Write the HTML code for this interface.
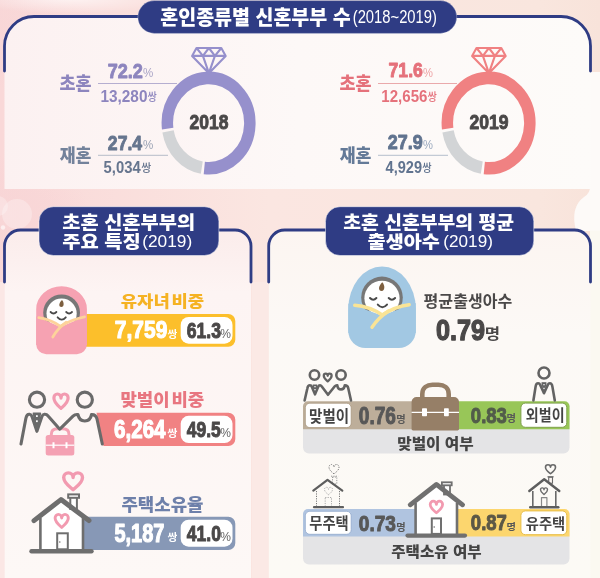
<!DOCTYPE html>
<html lang="ko"><head><meta charset="utf-8"><title>혼인종류별 신혼부부 수</title>
<style>html,body{margin:0;padding:0;background:#f9e3df}body{width:600px;height:578px;overflow:hidden}svg{display:block}</style>
</head><body>
<svg width="600" height="578" viewBox="0 0 600 578" font-family="'Liberation Sans','Noto Sans CJK KR',sans-serif">
<defs>
<linearGradient id="bgA" x1="0" y1="0" x2="1" y2="0"><stop offset="0" stop-color="#f9d8d8"/><stop offset="0.45" stop-color="#fbe6e1"/><stop offset="0.9" stop-color="#f9e6de"/><stop offset="1" stop-color="#f8e3da"/></linearGradient>
<radialGradient id="blobW" cx="0.5" cy="0.5" r="0.5"><stop offset="0" stop-color="#ffffff" stop-opacity="0.9"/><stop offset="1" stop-color="#ffffff" stop-opacity="0"/></radialGradient>
<radialGradient id="blobP" cx="0.5" cy="0.5" r="0.5"><stop offset="0" stop-color="#f8d6d7" stop-opacity="0.8"/><stop offset="1" stop-color="#f7cfd2" stop-opacity="0"/></radialGradient>
<linearGradient id="panT" x1="0" y1="0" x2="1" y2="0"><stop offset="0" stop-color="#fcf1f1"/><stop offset="0.5" stop-color="#fdf8f7"/><stop offset="1" stop-color="#fdfbf9"/></linearGradient>
<linearGradient id="panL" x1="0" y1="0" x2="0" y2="1"><stop offset="0" stop-color="#fbeceb"/><stop offset="0.18" stop-color="#fdf4f3"/><stop offset="1" stop-color="#fdf8f6"/></linearGradient>
<linearGradient id="panR" x1="0" y1="0" x2="0" y2="1"><stop offset="0" stop-color="#fcf5f1"/><stop offset="0.3" stop-color="#fcf9f6"/><stop offset="1" stop-color="#fcfaf5"/></linearGradient>
</defs>
<rect width="600" height="578" fill="url(#bgA)"/>
<ellipse cx="20" cy="40" rx="90" ry="50" fill="url(#blobP)" opacity="0.6"/><ellipse cx="70" cy="-2" rx="100" ry="16" fill="url(#blobW)" opacity="0.75"/>
<ellipse cx="0" cy="215" rx="90" ry="60" fill="url(#blobP)"/><rect x="0" y="282" width="4.5" height="296" fill="#fbe7e5"/>
<path d="M590 72 H600 V231 H576 Q570 207 584 197 Q590.5 193 590 186Z" fill="#fdfaf8"/>
<rect x="590" y="230.5" width="10" height="348" fill="#fbf9f1"/>
<rect x="252" y="282" width="16" height="296" fill="#fbe9e5"/>
<circle cx="17" cy="214" r="15" fill="#fff" opacity="0.28"/><circle cx="-2" cy="206" r="10" fill="#fff" opacity="0.25"/><circle cx="3" cy="227.5" r="2.2" fill="#fff" opacity="0.6"/>
<path d="M4.5 189 V46 A29.5 29.5 0 0 1 34 16.5 H561 A29.5 29.5 0 0 1 590.5 46 V189 Z" fill="url(#panT)"/>
<path d="M4.5 71 V46 A29.5 29.5 0 0 1 34 16.5 H561 A29.5 29.5 0 0 1 590.5 46 V71" fill="none" stroke="#2f3c84" stroke-width="2.8" stroke-linecap="round"/>
<rect x="137.8" y="0.6" width="319" height="32.8" rx="16.4" fill="#2f3c84" stroke="#fff" stroke-opacity="0.35" stroke-width="0.8"/>
<path d="M4.5 578 V246 A16 16 0 0 1 20.5 230 H235 A16 16 0 0 1 251 246 V578 Z" fill="url(#panL)"/>
<path d="M268.7 578 V246 A16 16 0 0 1 284.7 230 H574.5 A16 16 0 0 1 590.5 246 V578 Z" fill="url(#panR)"/>
<path d="M4.5 282 V246 A16 16 0 0 1 20.5 230 H235 A16 16 0 0 1 251 246 V282" fill="none" stroke="#2f3c84" stroke-width="2.8" stroke-linecap="round"/>
<path d="M268.7 282 V246 A16 16 0 0 1 284.7 230 H574.5 A16 16 0 0 1 590.5 246 V282" fill="none" stroke="#2f3c84" stroke-width="2.8" stroke-linecap="round"/>
<rect x="39" y="206.7" width="179.9" height="48.8" rx="14.5" fill="#2f3c84" stroke="#fff" stroke-opacity="0.5" stroke-width="1"/>
<rect x="325.5" y="206.7" width="208.3" height="48.8" rx="14.5" fill="#2f3c84" stroke="#fff" stroke-opacity="0.5" stroke-width="1"/>
<path d="M98 83.5H177" stroke="#b5aed0" stroke-width="1" fill="none"/><path d="M98 155.3H168" stroke="#b6bcc8" stroke-width="1" fill="none"/>
<path d="M378 83.5H457" stroke="#eaa9ab" stroke-width="1" fill="none"/><path d="M378 155.3H448" stroke="#b4bfcc" stroke-width="1" fill="none"/>
<g transform="translate(208.60 123.10) scale(1 1.095)"><path d="M-40.94 5.03 A41.25 41.25 0 1 1 -4.31 41.02" fill="none" stroke="#9690cc" stroke-width="11.5"/><path d="M-6.81 40.68 A41.25 41.25 0 0 1 -40.56 7.52" fill="none" stroke="#d2d4d6" stroke-width="11.5"/></g><path d="M196.50 48.00L221.30 48.00L225.70 55.90L208.90 73.20L192.10 55.90Z M192.10 55.90L225.70 55.90 M196.50 48.00L202.90 55.90L208.90 48.00L214.90 55.90L221.30 48.00 M202.90 55.90L208.90 73.20L214.90 55.90" fill="none" stroke="#9690cc" stroke-width="2.1" stroke-linejoin="round"/>
<g transform="translate(488.60 123.10) scale(1 1.095)"><path d="M-40.94 5.03 A41.25 41.25 0 1 1 -4.31 41.02" fill="none" stroke="#f08182" stroke-width="11.5"/><path d="M-6.81 40.68 A41.25 41.25 0 0 1 -40.56 7.52" fill="none" stroke="#d2d4d6" stroke-width="11.5"/></g><path d="M476.50 48.00L501.30 48.00L505.70 55.90L488.90 73.20L472.10 55.90Z M472.10 55.90L505.70 55.90 M476.50 48.00L482.90 55.90L488.90 48.00L494.90 55.90L501.30 48.00 M482.90 55.90L488.90 73.20L494.90 55.90" fill="none" stroke="#f08182" stroke-width="2.1" stroke-linejoin="round"/>
<path d="M80 314 H228.3 A7 7 0 0 1 235.3 321 V339.7 A7 7 0 0 1 228.3 346.7 H80Z" fill="#fcbf2b"/>
<path d="M36.2 344.2 V309.0 A25.35 22.80 0 0 1 86.9 309.0 V344.2 A10.0 10.0 0 0 1 76.9 354.2 H46.2 A10.0 10.0 0 0 1 36.2 344.2 Z" fill="#f6a2b2"/>
<circle cx="61.6" cy="312.8" r="18.4" fill="#777"/><circle cx="61.6" cy="313.6" r="15.1" fill="#ffffff"/>
<path d="M36.2 316.3 L60.5 327 L86.9 315.5 V345 H36.2Z" fill="#f6a2b2"/>
<path d="M38.8 317.6 Q51 319.5 60.5 326.3 Q71 319.5 84.6 316.8" fill="none" stroke="#fdd39b" stroke-width="2.8" stroke-linecap="round"/>
<path d="M66 322.3 Q57.5 328.5 52.8 337" fill="none" stroke="#fdd39b" stroke-width="2.8" stroke-linecap="round"/>
<path d="M62 300 C64.3 302.4 64.2 307 61.4 307 C58.6 307 58.4 303.4 62 300Z" fill="#7d5f3f"/>
<path d="M50.6 312 Q53.5 315 56.4 312 M66.2 312 Q69.1 315 72 312 M57.6 317.3 Q61.7 321.8 65.8 317.3" fill="none" stroke="#4a4a4a" stroke-width="1.8" stroke-linecap="round"/>
<rect x="180.7" y="317" width="51.8" height="26.7" rx="8" fill="#ffffff"/>
<path d="M96.5 412.7 H228.3 A7 7 0 0 1 235.3 419.7 V439 A7 7 0 0 1 228.3 446 H103.5 Z" fill="#f18283"/>
<rect x="180.7" y="415.8" width="51.8" height="27.2" rx="8" fill="#ffffff"/>
<g><rect x="45.7" y="435" width="28.6" height="20.6" rx="2.5" fill="#f4a1b3"/><path d="M51.3 436 V434.5 C51.3 430.5 54 428.8 57.5 428.8 H62.8 C66.3 428.8 69 430.5 69 434.5 V436" fill="none" stroke="#f4a1b3" stroke-width="3"/><path d="M45.7 445.2 H74.3" stroke="#fff" stroke-width="1.2"/><path d="M53.5 442.3 V448.3 M66.5 442.3 V448.3" stroke="#fff" stroke-width="2"/></g>
<g fill="none" stroke="#6a6a6a" stroke-width="3.1" stroke-linecap="round" stroke-linejoin="round"><circle cx="37" cy="399.7" r="7.6"/><circle cx="84.8" cy="399.7" r="7.6"/><path d="M21 444 L25.9 418.2 Q26.7 414.1 29.5 414.3 Q31.2 414.5 32 416.6 L36.9 431.3 L41.9 416.6 Q42.7 414.5 44.4 414.3 Q46.6 414.1 48.1 416 L59.8 429.2 L73 416.2 Q75 414.2 78 414.6 Q79 421 84.8 421 Q90.5 421 91.5 414.6 Q96 414.4 97 419 L102.3 444"/><path d="M33.4 413.4 L40.4 413.4 L36.9 429.5Z" fill="#6a6a6a" stroke-width="1.6"/></g><rect x="36.05" y="415.2" width="1.7" height="1.8" fill="#fff"/><rect x="36.05" y="420.3" width="1.7" height="1.8" fill="#fff"/>
<path d="M61.00 408.40 C58.02 405.66 53.90 402.64 53.90 398.03 A3.55 4.03 0 0 1 61.00 398.03 A3.55 4.03 0 0 1 68.10 398.03 C68.10 402.64 63.98 405.66 61.00 408.40Z" fill="none" stroke="#f29ab0" stroke-width="3.2" stroke-linejoin="round"/>
<path d="M82 516.7 H228.3 A7 7 0 0 1 235.3 523.7 V543 A7 7 0 0 1 228.3 550 H82 Z" fill="#8798b6"/>
<rect x="180.7" y="519.7" width="51.8" height="27" rx="8" fill="#ffffff"/>
<path d="M40.4 519 L61 501 L83 519 V550 H40.4Z" fill="#ffffff"/>
<g fill="#fff" stroke="#6e6e6e" stroke-width="2"><rect x="70.3" y="497" width="6.6" height="12"/><rect x="68.2" y="494.4" width="10.8" height="3.4"/></g>
<path d="M40.4 518 V550 M83 518 V550" stroke="#6e6e6e" stroke-width="2.6" fill="none"/>
<path d="M34 520.6 L61 499.6 L89 520.6" fill="none" stroke="#6e6e6e" stroke-width="5" stroke-linecap="round" stroke-linejoin="round"/>
<path d="M31.5 551.2 H91.5" stroke="#6e6e6e" stroke-width="4.4" stroke-linecap="round" fill="none"/>
<rect x="57.2" y="533.3" width="10.6" height="16" fill="#fff" stroke="#6e6e6e" stroke-width="2"/><circle cx="59.8" cy="542" r="0.8" fill="#6e6e6e"/>
<path d="M61.70 527.40 C58.93 524.93 55.10 522.20 55.10 518.04 A3.30 3.64 0 0 1 61.70 518.04 A3.30 3.64 0 0 1 68.30 518.04 C68.30 522.20 64.47 524.93 61.70 527.40Z" fill="none" stroke="#f29ab0" stroke-width="2.9" stroke-linejoin="round"/>
<path d="M73.10 489.70 C69.15 486.51 63.70 482.98 63.70 477.60 A4.70 4.70 0 0 1 73.10 477.60 A4.70 4.70 0 0 1 82.50 477.60 C82.50 482.98 77.05 486.51 73.10 489.70Z" fill="none" stroke="#f29ab0" stroke-width="3.4" stroke-linejoin="round"/>
<path d="M348.3 331.0 V309.0 A33.75 42.40 0 0 1 415.8 309.0 V331.0 A17.0 17.0 0 0 1 398.8 348.0 H365.3 A17.0 17.0 0 0 1 348.3 331.0 Z" fill="#a2c8e3"/>
<circle cx="382" cy="297.4" r="20.8" fill="#777"/><circle cx="382" cy="298.3" r="17.6" fill="#ffffff"/>
<path d="M348.3 303.5 L382 315.5 L415.8 303 V333 H348.3Z" fill="#a2c8e3"/>
<path d="M354.7 305.3 Q370 306.5 382.2 315 Q395 306.5 409.2 304.7" fill="none" stroke="#fae496" stroke-width="3.4" stroke-linecap="round"/>
<path d="M389 310.8 Q378.5 317.5 372 327.3" fill="none" stroke="#fae496" stroke-width="3.4" stroke-linecap="round"/>
<path d="M382.3 282.3 C385.2 285.3 385 291 381.6 291 C378.2 291 377.9 286.5 382.3 282.3Z" fill="#7d5f3f"/>
<path d="M370 298 Q373.2 301.4 376.4 298 M388.7 298 Q391.9 301.4 395.1 298 M377.8 304.6 Q382.4 309.8 387 304.6" fill="none" stroke="#4a4a4a" stroke-width="2" stroke-linecap="round"/>
<path d="M303 405 H569.5 V447.5 A6 6 0 0 1 563.5 453.5 H309 A6 6 0 0 1 303 447.5 Z" fill="#e4e4e6"/>
<path d="M303 429.2 V406.3 A5 5 0 0 1 308 401.3 H420 V429.2Z" fill="#bdae9a"/>
<path d="M452 401.3 H564.5 A5 5 0 0 1 569.5 406.3 V429.2 H452Z" fill="#98c658"/>
<rect x="305.3" y="403.2" width="45.9" height="24.4" rx="4.5" fill="#fff" stroke="#a8977f" stroke-width="0.8"/>
<rect x="520.9" y="403.1" width="45.9" height="24.2" rx="4.5" fill="#fff" stroke="#7fa04c" stroke-width="1"/>
<g><path d="M422.3 399 V394 C422.3 387.5 427 384.8 432.5 384.8 H438.5 C444 384.8 448.7 387.5 448.7 394 V399" fill="none" stroke="#967f67" stroke-width="4.6"/><path d="M411.6 429.6 V402 A5 5 0 0 1 416.6 397 H454 A5 5 0 0 1 459 402 V429.6 A1.5 1.5 0 0 1 457.5 430.4 H413 A1.5 1.5 0 0 1 411.6 429.6Z" fill="#967f67"/><path d="M411.6 412.4 H459" stroke="#fff" stroke-width="1.4"/><rect x="422" y="408.2" width="5" height="8" rx="0.8" fill="#fff"/><rect x="444" y="408.2" width="4.8" height="8" rx="0.8" fill="#fff"/></g>
<g fill="none" stroke="#636363" stroke-width="2.6" stroke-linecap="round" stroke-linejoin="round"><circle cx="314.5" cy="375" r="4.7"/><circle cx="341" cy="375" r="4.7"/><path d="M304.6 400.5 L307.4 388.2 Q307.9 385.3 309.9 385.3 Q311.3 385.3 311.8 386.8 L315 394.3 L318.2 386.8 Q318.7 385.3 320 385.3 Q321 385.3 321.6 386.3 L328 394.8 L334.8 386.3 Q335.8 385.1 337.3 385.3 Q337.8 389.4 341 389.4 Q344.2 389.4 344.8 385.3 Q347.6 385.2 348.2 388 L351 400.5"/><path d="M313.1 385 L316.9 385 L315 393Z" fill="#636363" stroke-width="1.2"/></g><rect x="314.4" y="386" width="1.2" height="1.3" fill="#fff"/><rect x="314.4" y="389" width="1.2" height="1.3" fill="#fff"/>
<path d="M327.70 381.40 C326.06 379.92 323.80 378.28 323.80 375.78 A1.95 2.18 0 0 1 327.70 375.78 A1.95 2.18 0 0 1 331.60 375.78 C331.60 378.28 329.34 379.92 327.70 381.40Z" fill="none" stroke="#636363" stroke-width="2.3" stroke-linejoin="round"/>
<g fill="none" stroke="#636363" stroke-width="2.6" stroke-linecap="round" stroke-linejoin="round"><circle cx="544" cy="373" r="5.5"/><path d="M533.4 400.5 L535.6 386.6 Q536.1 383.2 538.1 383.2 Q539.6 383.2 540.1 384.6 L544 393.2 L547.9 384.6 Q548.4 383.2 549.9 383.2 Q551.9 383.2 552.4 386.6 L554.8 400.5"/><path d="M542 382.8 L546 382.8 L544 391.8Z" fill="#636363" stroke-width="1.2"/></g><rect x="543.4" y="384" width="1.2" height="1.3" fill="#fff"/><rect x="543.4" y="387.8" width="1.2" height="1.3" fill="#fff"/>
<path d="M303 513 H569.5 V558.5 A6 6 0 0 1 563.5 564.5 H309 A6 6 0 0 1 303 558.5 Z" fill="#e4e4e6"/>
<path d="M303 536.4 V514 A5 5 0 0 1 308 509 H420 V536.4Z" fill="#b0c4e0"/>
<path d="M455 509 H564.5 A5 5 0 0 1 569.5 514 V536.4 H455Z" fill="#fcd66e"/>
<rect x="305.3" y="511.3" width="45.9" height="23" rx="4.5" fill="#fff" stroke="#90a8cc" stroke-width="0.8"/>
<rect x="520.9" y="510.9" width="45.9" height="23.8" rx="4.5" fill="#fff" stroke="#e8bd45" stroke-width="1"/>
<path d="M415.6 503 L436.4 486 L457 503 V535 H415.6Z" fill="#ffffff"/>
<g fill="#fff" stroke="#707070" stroke-width="1.8"><rect x="444" y="484.5" width="6" height="10"/><rect x="441.9" y="482.3" width="9.8" height="3"/></g>
<path d="M415.6 503 V535 M457 503 V535" stroke="#707070" stroke-width="2.6" fill="none"/>
<path d="M410.2 504.8 L436.4 484.4 L462.6 504.8" fill="none" stroke="#707070" stroke-width="4.8" stroke-linecap="round" stroke-linejoin="round"/>
<path d="M407.5 535.6 H465" stroke="#707070" stroke-width="4.2" stroke-linecap="round" fill="none"/>
<rect x="431.8" y="518.4" width="9.2" height="15.5" fill="#fff" stroke="#707070" stroke-width="2"/><circle cx="434.2" cy="527" r="0.8" fill="#707070"/>
<path d="M436.40 512.80 C433.80 510.60 430.20 508.16 430.20 504.45 A3.10 3.25 0 0 1 436.40 504.45 A3.10 3.25 0 0 1 442.60 504.45 C442.60 508.16 439.00 510.60 436.40 512.80Z" fill="none" stroke="#f29ab0" stroke-width="2.8" stroke-linejoin="round"/>
<g fill="none" stroke="#7a7a7a" stroke-width="1" stroke-dasharray="1.2 1.2"><path d="M316.5 491 V506.5 M339.5 491 V506.5"/><rect x="325.2" y="497.5" width="6.3" height="9" stroke="#aaa"/><rect x="332.5" y="477" width="4.3" height="7" stroke="#999"/><path d="M331 476.2 H338.3" stroke="#999"/><path d="M328.50 494.70 C326.82 493.29 324.50 491.74 324.50 489.37 A2.00 2.07 0 0 1 328.50 489.37 A2.00 2.07 0 0 1 332.50 489.37 C332.50 491.74 330.18 493.29 328.50 494.70Z" stroke="#aaa"/><path d="M334.00 473.90 C331.90 472.11 329.00 470.14 329.00 467.13 A2.50 2.63 0 0 1 334.00 467.13 A2.50 2.63 0 0 1 339.00 467.13 C339.00 470.14 336.10 472.11 334.00 473.90Z" stroke="#777"/></g>
<path d="M313.3 490.6 L327.5 479.8 L342.3 490.6" fill="none" stroke="#5e5e5e" stroke-width="2.2" stroke-linecap="round" stroke-linejoin="round"/><path d="M314 507.2 H343" stroke="#5e5e5e" stroke-width="2.2" stroke-linecap="round"/>
<g fill="none" stroke="#6a6a6a" stroke-linejoin="round"><rect x="548.7" y="477.3" width="3.8" height="6" stroke-width="1.1" fill="#fbf5f1"/><path d="M547.5 476.8 H553.6" stroke-width="1.3"/><path d="M532.8 491 V507 M555.8 491 V507" stroke-width="1.6"/><rect x="541.5" y="497.6" width="5.4" height="9" stroke-width="1.2" stroke="#888"/><path d="M544.00 494.50 C542.53 493.25 540.50 491.86 540.50 489.75 A1.75 1.85 0 0 1 544.00 489.75 A1.75 1.85 0 0 1 547.50 489.75 C547.50 491.86 545.47 493.25 544.00 494.50Z" stroke-width="1.4"/><path d="M550.50 473.70 C548.40 471.99 545.50 470.10 545.50 467.22 A2.50 2.52 0 0 1 550.50 467.22 A2.50 2.52 0 0 1 555.50 467.22 C555.50 470.10 552.60 471.99 550.50 473.70Z" stroke-width="1.6"/></g>
<path d="M529.3 491 L544.2 479.2 L559.3 491" fill="none" stroke="#5e5e5e" stroke-width="2.4" stroke-linecap="round" stroke-linejoin="round"/><path d="M530.2 507.2 H558.3" stroke="#5e5e5e" stroke-width="2.4" stroke-linecap="round"/>
<text transform="translate(160.21 25.16) scale(0.9566 1)" font-size="20.42" font-weight="900" fill="#ffffff">혼인종류별 신혼부부 수</text>
<text transform="translate(352.71 23.16) scale(0.8081 1)" font-size="18.30" font-weight="normal" fill="#ffffff">(2018~2019)</text>
<text transform="translate(59.38 90.42) scale(0.9355 1)" font-size="18.62" font-weight="900" fill="#8d85be">초혼</text>
<text transform="translate(107.68 77.60) scale(0.8606 1)" font-size="21.00" font-weight="bold" fill="#8d85be" stroke="#8d85be" stroke-width="0.94" stroke-linejoin="round">72.2</text>
<text transform="translate(143.05 77.48) scale(0.9439 1)" font-size="12.25" font-weight="normal" fill="#a9a4c6">%</text>
<text transform="translate(100.48 101.58) scale(0.8902 1)" font-size="17.25" font-weight="bold" fill="#8d85be">13,280</text>
<text transform="translate(147.50 100.77) scale(0.9269 1)" font-size="10.91" font-weight="500" fill="#8d85be">쌍</text>
<text transform="translate(59.73 162.26) scale(0.9349 1)" font-size="18.42" font-weight="900" fill="#73829b">재혼</text>
<text transform="translate(107.87 149.60) scale(0.8382 1)" font-size="21.00" font-weight="bold" fill="#66758e" stroke="#66758e" stroke-width="0.94" stroke-linejoin="round">27.4</text>
<text transform="translate(143.05 149.48) scale(0.9439 1)" font-size="12.25" font-weight="normal" fill="#9aa3b5">%</text>
<text transform="translate(103.55 172.73) scale(0.8567 1)" font-size="17.32" font-weight="bold" fill="#66758e">5,034</text>
<text transform="translate(141.28 171.88) scale(0.9578 1)" font-size="11.29" font-weight="500" fill="#66758e">쌍</text>
<text transform="translate(189.47 129.30) scale(0.8581 1)" font-size="20.42" font-weight="bold" fill="#4a4848" stroke="#4a4848" stroke-width="0.92" stroke-linejoin="round">2018</text>
<text transform="translate(339.38 90.42) scale(0.9355 1)" font-size="18.62" font-weight="900" fill="#e5717b">초혼</text>
<text transform="translate(388.55 77.39) scale(0.8510 1)" font-size="20.70" font-weight="bold" fill="#e5717b" stroke="#e5717b" stroke-width="0.93" stroke-linejoin="round">71.6</text>
<text transform="translate(423.06 77.48) scale(0.9144 1)" font-size="12.25" font-weight="normal" fill="#eea3a6">%</text>
<text transform="translate(381.35 101.58) scale(0.8736 1)" font-size="17.25" font-weight="bold" fill="#e5717b">12,656</text>
<text transform="translate(427.44 100.77) scale(0.9322 1)" font-size="10.91" font-weight="500" fill="#e5717b">쌍</text>
<text transform="translate(339.73 162.26) scale(0.9349 1)" font-size="18.42" font-weight="900" fill="#647a98">재혼</text>
<text transform="translate(387.86 149.39) scale(0.8683 1)" font-size="20.70" font-weight="bold" fill="#60738f" stroke="#60738f" stroke-width="0.93" stroke-linejoin="round">27.9</text>
<text transform="translate(423.06 149.48) scale(0.9144 1)" font-size="12.25" font-weight="normal" fill="#9aa9bf">%</text>
<text transform="translate(385.60 172.73) scale(0.8425 1)" font-size="17.32" font-weight="bold" fill="#60738f">4,929</text>
<text transform="translate(422.19 171.88) scale(0.9012 1)" font-size="11.29" font-weight="500" fill="#60738f">쌍</text>
<text transform="translate(469.47 129.30) scale(0.8620 1)" font-size="20.42" font-weight="bold" fill="#4a4848" stroke="#4a4848" stroke-width="0.92" stroke-linejoin="round">2019</text>
<text transform="translate(62.21 228.83) scale(1.1056 1)" font-size="17.92" font-weight="900" fill="#ffffff">초혼 신혼부부의</text>
<text transform="translate(62.20 247.70) scale(1.1482 1)" font-size="17.29" font-weight="900" fill="#ffffff">주요 특징</text>
<text transform="translate(142.16 246.98) scale(1.0048 1)" font-size="17.23" font-weight="normal" fill="#ffffff">(2019)</text>
<text transform="translate(343.32 228.83) scale(1.0799 1)" font-size="17.92" font-weight="900" fill="#ffffff">초혼 신혼부부의 평균</text>
<text transform="translate(367.61 247.70) scale(1.1375 1)" font-size="17.29" font-weight="900" fill="#ffffff">출생아수</text>
<text transform="translate(443.37 246.98) scale(0.9944 1)" font-size="17.23" font-weight="normal" fill="#ffffff">(2019)</text>
<text transform="translate(120.77 306.64) scale(1.1076 1)" font-size="16.04" font-weight="900" fill="#f5b223" word-spacing="-2.89">유자녀 비중</text>
<text transform="translate(114.86 338.45) scale(0.8560 1)" font-size="24.51" font-weight="bold" fill="#ffffff" stroke="#ffffff" stroke-width="1.10" stroke-linejoin="round">7,759</text>
<text transform="translate(167.49 337.71) scale(1.0803 1)" font-size="9.89" font-weight="700" fill="#ffffff">쌍</text>
<text transform="translate(186.77 338.18) scale(0.8117 1)" font-size="21.69" font-weight="bold" fill="#4a4848" stroke="#4a4848" stroke-width="0.98" stroke-linejoin="round">61.3</text>
<text transform="translate(220.34 338.27) scale(0.9100 1)" font-size="13.24" font-weight="normal" fill="#666666">%</text>
<text transform="translate(120.41 406.14) scale(1.0573 1)" font-size="16.87" font-weight="900" fill="#e87680" word-spacing="-3.03">맞벌이 비중</text>
<text transform="translate(113.98 438.34) scale(0.8006 1)" font-size="25.77" font-weight="bold" fill="#ffffff" stroke="#ffffff" stroke-width="1.16" stroke-linejoin="round">6,264</text>
<text transform="translate(167.18 436.65) scale(1.0483 1)" font-size="10.53" font-weight="700" fill="#ffffff">쌍</text>
<text transform="translate(186.83 437.18) scale(0.7908 1)" font-size="22.11" font-weight="bold" fill="#4a4848" stroke="#4a4848" stroke-width="1.00" stroke-linejoin="round">49.5</text>
<text transform="translate(220.34 437.26) scale(0.8819 1)" font-size="13.66" font-weight="normal" fill="#666666">%</text>
<text transform="translate(121.46 510.64) scale(1.0573 1)" font-size="16.87" font-weight="900" fill="#6e80aa">주택소유율</text>
<text transform="translate(114.40 542.34) scale(0.7755 1)" font-size="25.77" font-weight="bold" fill="#ffffff" stroke="#ffffff" stroke-width="1.16" stroke-linejoin="round">5,187</text>
<text transform="translate(167.49 540.65) scale(1.0155 1)" font-size="10.53" font-weight="700" fill="#ffffff">쌍</text>
<text transform="translate(186.82 541.18) scale(0.7949 1)" font-size="22.11" font-weight="bold" fill="#4a4848" stroke="#4a4848" stroke-width="1.00" stroke-linejoin="round">41.0</text>
<text transform="translate(220.34 541.26) scale(0.8819 1)" font-size="13.66" font-weight="normal" fill="#666666">%</text>
<text transform="translate(423.56 306.72) scale(1.0187 1)" font-size="15.79" font-weight="700" fill="#4a4848">평균출생아수</text>
<text transform="translate(435.94 339.71) scale(0.8836 1)" font-size="28.59" font-weight="bold" fill="#4a4848" stroke="#4a4848" stroke-width="1.29" stroke-linejoin="round">0.79</text>
<text transform="translate(484.63 338.51) scale(1.1150 1)" font-size="14.95" font-weight="700" fill="#4a4848">명</text>
<text transform="translate(309.03 421.80) scale(0.9073 1)" font-size="16.00" font-weight="700" fill="#444444">맞벌이</text>
<text transform="translate(358.83 423.77) scale(0.8193 1)" font-size="23.24" font-weight="bold" fill="#585858" stroke="#585858" stroke-width="1.05" stroke-linejoin="round">0.76</text>
<text transform="translate(396.28 422.97) scale(1.0003 1)" font-size="10.26" font-weight="700" fill="#575757">명</text>
<text transform="translate(470.84 423.09) scale(0.8658 1)" font-size="21.41" font-weight="bold" fill="#525c4a" stroke="#525c4a" stroke-width="0.96" stroke-linejoin="round">0.83</text>
<text transform="translate(506.48 422.33) scale(1.0601 1)" font-size="9.68" font-weight="700" fill="#575757">명</text>
<text transform="translate(525.84 421.21) scale(0.9118 1)" font-size="15.42" font-weight="700" fill="#444444">외벌이</text>
<text transform="translate(397.22 448.70) scale(1.0762 1)" font-size="14.58" font-weight="900" fill="#444444">맞벌이 여부</text>
<text transform="translate(309.33 529.15) scale(0.9239 1)" font-size="15.47" font-weight="700" fill="#444444">무주택</text>
<text transform="translate(358.83 531.37) scale(0.8450 1)" font-size="22.54" font-weight="bold" fill="#585858" stroke="#585858" stroke-width="1.01" stroke-linejoin="round">0.73</text>
<text transform="translate(396.28 530.63) scale(1.0601 1)" font-size="9.68" font-weight="700" fill="#575757">명</text>
<text transform="translate(470.84 530.49) scale(0.8716 1)" font-size="21.27" font-weight="bold" fill="#5c5846" stroke="#5c5846" stroke-width="0.96" stroke-linejoin="round">0.87</text>
<text transform="translate(506.48 529.77) scale(1.1083 1)" font-size="9.26" font-weight="700" fill="#575757">명</text>
<text transform="translate(525.83 528.79) scale(0.9498 1)" font-size="15.05" font-weight="700" fill="#444444">유주택</text>
<text transform="translate(391.23 556.70) scale(1.0708 1)" font-size="14.58" font-weight="900" fill="#444444">주택소유 여부</text>
</svg>
</body></html>
